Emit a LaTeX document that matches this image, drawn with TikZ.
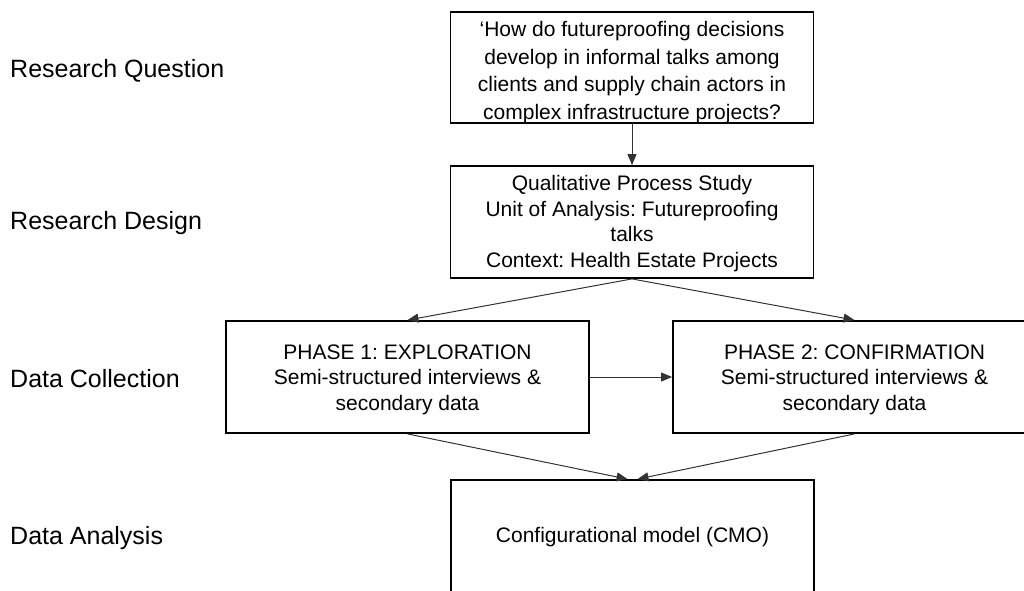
\documentclass[tikz,border=0pt]{standalone}
\usepackage{fontspec}
\setmainfont{Liberation Sans}
\usetikzlibrary{arrows.meta}
\frenchspacing
\newcommand{\boxlines}[2]{\raisebox{-#1}[0pt][0pt]{\begin{tabular}{@{}c@{}}#2\end{tabular}}}
\tikzset{
  stagebox/.style={draw,line width=1.8pt,inner sep=0pt,align=center,
    minimum width=363pt,minimum height=112pt,
    font=\fontsize{21}{25.5}\selectfont},
  rowlabel/.style={anchor=west,inner sep=0pt,font=\fontsize{25}{29}\selectfont},
  flow/.style={draw=black!80,line width=1pt,-{Triangle[length=11pt,width=9pt]}}
}
\begin{document}
\begin{tikzpicture}[x=1pt,y=-1pt]
\useasboundingbox (0,0) rectangle (1024,590);
\clip (0,0) rectangle (1024,590);
\node[rowlabel] (lq) at (10,71) {Research Question};
\node[rowlabel] (ld) at (10,223) {Research Design};
\node[rowlabel] (lc) at (10,379) {Data Collection};
\node[rowlabel] (la) at (10,538) {Data Analysis};
\node[stagebox,minimum height=111pt,font=\fontsize{21}{27.5}\selectfont] (quest) at (632,67.5)
  {\boxlines{10pt}{‘How do futureproofing decisions\\develop in informal talks among\\clients and supply chain actors in\\complex infrastructure projects?}};
\node[stagebox] (design) at (632,222)
  {\boxlines{7pt}{Qualitative Process Study\\Unit of Analysis: Futureproofing\\talks\\Context: Health Estate Projects}};
\node[stagebox] (phase1) at (407.5,377)
  {\boxlines{8pt}{PHASE 1: EXPLORATION\\Semi-structured interviews \&\\secondary data}};
\node[stagebox] (phase2) at (854.5,377)
  {\boxlines{8pt}{PHASE 2: CONFIRMATION\\Semi-structured interviews \&\\secondary data}};
\node[stagebox,minimum height=114pt] (model) at (632.5,537)
  {Configurational model (CMO)};
\draw[flow] (quest.south) -- (design.north);
\draw[flow] (design.south) -- (phase1.north);
\draw[flow] (design.south) -- (phase2.north);
\draw[flow] (phase1.east) -- (phase2.west);
\draw[flow] (phase1.south) -- ([xshift=-5pt]model.north);
\draw[flow] (phase2.south) -- ([xshift=5pt]model.north);
\end{tikzpicture}
\end{document}
